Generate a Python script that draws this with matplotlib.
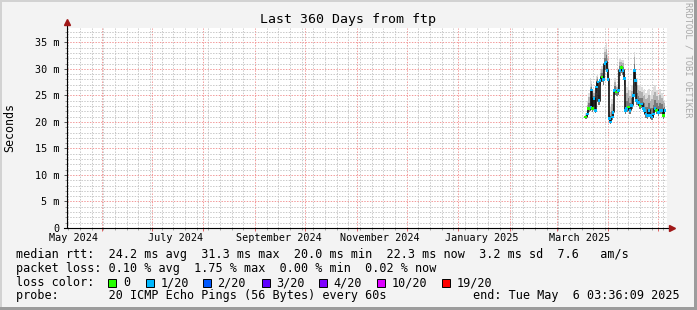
import matplotlib
matplotlib.use('Agg')
import matplotlib.pyplot as plt
import matplotlib.dates as mdates
from matplotlib.patches import Rectangle
import pandas as pd

plt.rcParams['font.family'] = ['DejaVu Sans Mono', 'DejaVu Sans']

# graph window
start = pd.Timestamp('2024-05-11 03:36:09')
end = pd.Timestamp('2025-05-06 03:36:09')

# days since window start, median rtt (ms), smoke max/min (ms), lost pings of 20
t_day = [311.0, 312.4, 313.0, 314.4, 314.8, 315.4, 316.2, 317.2, 317.8, 318.6,
         319.2, 319.8, 321.0, 321.8, 322.8, 323.4, 324.0, 324.6, 325.4, 326.0,
         327.2, 327.6, 328.6, 329.8, 331.0, 331.8, 332.6, 333.6, 334.4, 335.0,
         335.8, 336.8, 337.8, 338.8, 339.8, 340.4, 341.0, 341.8, 342.8, 343.8,
         344.8, 345.8, 346.6, 347.4, 348.4, 349.2, 350.0, 351.0, 351.8, 352.8,
         353.8, 354.8, 355.8, 356.8, 357.8, 358.8]
median_ms = [20.9, 21.5, 22.5, 22.7, 26.0, 22.5, 24.4, 22.2, 26.6, 27.5,
             24.0, 27.8, 28.5, 28.0, 31.0, 31.3, 29.7, 28.0, 20.6, 20.0,
             20.9, 21.8, 25.9, 25.6, 25.9, 29.7, 30.3, 29.7, 28.2, 22.2,
             22.5, 22.8, 22.2, 23.1, 25.0, 29.7, 27.8, 24.0, 23.7, 23.1,
             23.4, 22.5, 22.2, 21.5, 21.2, 22.2, 21.2, 20.9, 21.5, 22.5,
             22.2, 21.8, 22.2, 22.2, 21.2, 22.2]
smoke_hi_ms = [21.6, 24.0, 25.5, 28.2, 27.7, 25.0, 26.0, 25.0, 28.7, 29.0,
               27.0, 29.7, 30.5, 31.0, 34.1, 34.8, 33.0, 31.0, 22.0, 22.8,
               24.4, 24.0, 28.2, 27.0, 29.1, 32.0, 31.6, 31.6, 30.0, 24.7,
               26.6, 27.5, 26.0, 26.9, 28.0, 33.2, 30.0, 28.2, 27.0, 26.9,
               26.6, 26.0, 26.2, 25.5, 26.0, 26.2, 25.0, 25.9, 26.5, 26.9,
               26.0, 25.0, 26.2, 25.5, 25.0, 24.1]
smoke_lo_ms = [20.6, 21.0, 21.8, 22.0, 22.3, 21.9, 23.0, 21.6, 25.5, 26.5,
               23.2, 26.8, 27.6, 27.0, 29.8, 30.2, 28.5, 26.8, 20.0, 19.6,
               20.3, 21.0, 25.0, 24.8, 25.0, 28.6, 29.3, 28.8, 27.0, 21.5,
               21.8, 22.0, 21.5, 22.4, 24.2, 28.5, 26.8, 23.2, 23.0, 22.4,
               22.7, 21.8, 21.5, 20.8, 20.6, 21.5, 20.5, 20.3, 20.8, 21.8,
               21.5, 21.1, 21.5, 21.5, 20.6, 21.5]
loss = [0, 1, 0, 1, 1, 0, 1, 1, 1, 1,
        1, 1, 0, 1, 1, 1, 1, 1, 1, 1,
        1, 1, 1, 0, 1, 1, 0, 1, 1, 1,
        1, 0, 1, 1, 1, 1, 1, 1, 1, 0,
        1, 1, 1, 1, 1, 1, 1, 1, 1, 1,
        0, 1, 1, 1, 0, 1]

loss_labels = ['0', '1/20', '2/20', '3/20', '4/20', '10/20', '19/20']
loss_colors = ['#26ff00', '#00b8ff', '#0059ff', '#5e00ff', '#7e00ff', '#dd00ff', '#ff0000']

month_labels = ['2024-05-15', '2024-07-15', '2024-09-15', '2024-11-15', '2025-01-15', '2025-03-15']
y_ticks = [0, 5, 10, 15, 20, 25, 30, 35]

title = 'Last 360 Days from ftp'
line_rtt = 'median rtt:  24.2 ms avg  31.3 ms max  20.0 ms min  22.3 ms now  3.2 ms sd  7.6   am/s'
line_loss = 'packet loss: 0.10 % avg  1.75 % max  0.00 % min  0.02 % now'
line_probe = 'probe:       20 ICMP Echo Pings (56 Bytes) every 60s'
line_end = 'end: Tue May  6 03:36:09 2025'

W, H = 697, 310
fig = plt.figure(figsize=(W / 100, H / 100), dpi=100, facecolor='#f3f3f3')

def fx(px):
    return px / W

def fy(py):
    return 1 - py / H

# frame shading
fig.patches.append(Rectangle((0, fy(2)), 1, 2 / H, transform=fig.transFigure, fc='#d2d2d2', ec='none'))
fig.patches.append(Rectangle((0, 0), 2 / W, 1, transform=fig.transFigure, fc='#d2d2d2', ec='none'))
fig.patches.append(Rectangle((fx(694), 0), 3 / W, 1, transform=fig.transFigure, fc='#9c9c9c', ec='none'))
fig.patches.append(Rectangle((0, 0), 1, 3 / H, transform=fig.transFigure, fc='#9c9c9c', ec='none'))

ax = fig.add_axes([fx(67), fy(228), 600 / W, 200 / H])
ax.set_facecolor('white')
for s in ax.spines.values():
    s.set_visible(False)

times = mdates.date2num(start + pd.to_timedelta(t_day, unit='D'))
ax.set_xlim(mdates.date2num(start), mdates.date2num(end))
ax.set_ylim(0, 37.7)

# grid
ax.xaxis.set_major_locator(mdates.MonthLocator())
ax.xaxis.set_minor_locator(mdates.WeekdayLocator(byweekday=mdates.SU))
ax.set_yticks(y_ticks)
ax.set_yticks(range(0, 38), minor=True)
ax.grid(which='minor', color='#c8c8c8', linestyle=(0, (1.4, 1.4)), linewidth=0.72,
        snap=True, zorder=0)
ax.grid(which='major', color='#f29a9a', linestyle=(0, (1.4, 1.4)), linewidth=0.72,
        snap=True, zorder=0.5)
ax.set_axisbelow(True)
ax.set_xticklabels([])
ax.set_yticklabels(['0' if v == 0 else f'{v} m' for v in y_ticks], fontsize=7.3)
ax.tick_params(axis='y', which='major', length=2.5, width=0.7, color='#555555', pad=3)
ax.tick_params(axis='y', which='minor', length=1.5, width=0.6, color='#888888')
ax.tick_params(axis='x', which='major', length=2, width=0.7, color='#e06060', pad=1)
ax.tick_params(axis='x', which='minor', length=1.5, width=0.6, color='#999999')

for d in month_labels:
    ax.text(mdates.date2num(pd.Timestamp(d)), -0.05, pd.Timestamp(d).strftime('%B %Y'),
            transform=ax.get_xaxis_transform(), ha='center', va='center', fontsize=7.3)

# smoke
lo = smoke_lo_ms
hi = smoke_hi_ms
mid1 = [m + 0.35 * (h - m) for m, h in zip(median_ms, hi)]
mid2 = [m + 0.7 * (h - m) for m, h in zip(median_ms, hi)]
ax.fill_between(times, lo, hi, step='mid', color='#dcdcdc', lw=0, zorder=2)
ax.fill_between(times, lo, mid2, step='mid', color='#b0b0b0', lw=0, zorder=2)
ax.fill_between(times, lo, mid1, step='mid', color='#787878', lw=0, zorder=2)

# median
ax.plot(times, median_ms, drawstyle='steps-mid', color='#101010', lw=1.2, zorder=3)
ax.scatter(times, median_ms, c=[loss_colors[l] for l in loss], marker='s', s=3.5, lw=0, zorder=4)

# axis lines with arrows
ax.plot([0, 0], [0, 1.03], transform=ax.transAxes, color='black', lw=0.8, clip_on=False, zorder=5)
ax.plot([-0.005, 1.008], [0, 0], transform=ax.transAxes, color='black', lw=0.8, clip_on=False, zorder=5)
ax.plot([0], [1.03], marker='^', ms=4.5, color='#a01818', transform=ax.transAxes, clip_on=False, zorder=6)
ax.plot([1.008], [0], marker='>', ms=4.5, color='#a01818', transform=ax.transAxes, clip_on=False, zorder=6)

# texts
fig.text(fx(348), fy(19), title, ha='center', va='center', fontsize=9.5)
fig.text(fx(10), fy(127), 'Seconds', rotation=90, ha='center', va='center', fontsize=8.4)
fig.text(fx(688), fy(60), 'RRDTOOL / TOBI OETIKER', rotation=270, ha='center', va='center',
         fontsize=6.3, color='#a8a8a8')

fs = 8.5
fig.text(fx(16), fy(258.3), line_rtt, fontsize=fs, va='baseline')
fig.text(fx(16), fy(272), line_loss, fontsize=fs, va='baseline')
fig.text(fx(16), fy(286), 'loss color:', fontsize=fs, va='baseline')
fig.text(fx(16), fy(299.5), line_probe, fontsize=fs, va='baseline')
fig.text(fx(680), fy(299.5), line_end, fontsize=fs, va='baseline', ha='right')

box_x = [108.3, 145.7, 203.0, 261.7, 319.0, 377.3, 442.0]
for bx, lab, col in zip(box_x, loss_labels, loss_colors):
    fig.patches.append(Rectangle((fx(bx), fy(286.7)), 8 / W, 8 / H, transform=fig.transFigure,
                                 fc=col, ec='black', lw=0.7))
    fig.text(fx(bx + 14.5), fy(286), lab, fontsize=fs, va='baseline')

fig.savefig('out.png', dpi=100, facecolor=fig.get_facecolor())
